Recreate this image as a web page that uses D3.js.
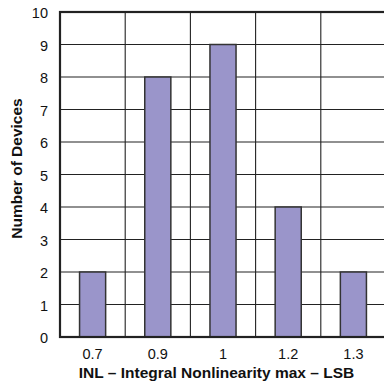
<!DOCTYPE html>
<html>
<head>
<meta charset="utf-8">
<script src="https://cdn.jsdelivr.net/npm/d3@7"></script>
<style>
  body { margin: 0; background: #fff; }
  svg { display: block; font-family: "Liberation Sans", Arial, sans-serif; }
</style>
</head>
<body>
<svg id="chart"></svg>
<script>
// Data
var inlBins = ["0.7", "0.9", "1", "1.2", "1.3"];
var deviceCounts = [2, 8, 9, 4, 2];
var yTicks = [0, 1, 2, 3, 4, 5, 6, 7, 8, 9, 10];

var W = 384, H = 383;
var margin = {top: 12, right: -2, bottom: 46, left: 60},
    width = W - margin.left - margin.right,
    height = H - margin.top - margin.bottom;

var svg = d3.select("#chart")
    .attr("width", W)
    .attr("height", H)
  .append("g")
    .attr("transform", "translate(" + margin.left + "," + margin.top + ")");

// scales
var x = d3.scaleBand()
    .domain(inlBins)
    .range([0, width])
    .paddingInner(0.6)
    .paddingOuter(0.3);

var y = d3.scaleLinear()
    .domain([0, 10])
    .range([height, 0]);

// band edges for vertical grid lines
var step = width / inlBins.length;

// horizontal grid lines
svg.append("g")
  .selectAll("line")
  .data(yTicks.slice(1, -1))
  .enter()
  .append("line")
    .attr("x1", 0)
    .attr("x2", width)
    .attr("y1", function(d) { return y(d); })
    .attr("y2", function(d) { return y(d); })
    .attr("stroke", "#222")
    .attr("stroke-width", 1.1);

// vertical grid lines
svg.append("g")
  .selectAll("line")
  .data(inlBins.slice(1))
  .enter()
  .append("line")
    .attr("x1", function(d, i) { return (i + 1) * step; })
    .attr("x2", function(d, i) { return (i + 1) * step; })
    .attr("y1", 0)
    .attr("y2", height)
    .attr("stroke", "#222")
    .attr("stroke-width", 1.1);

// bars
svg.append("g")
  .selectAll("rect")
  .data(deviceCounts)
  .enter()
  .append("rect")
    .attr("x", function(d, i) { return (i + 0.5) * step - x.bandwidth() / 2; })
    .attr("y", function(d) { return y(d); })
    .attr("width", x.bandwidth())
    .attr("height", function(d) { return height - y(d); })
    .attr("fill", "#9a95ca")
    .attr("stroke", "#333")
    .attr("stroke-width", 1.5);

// frame
svg.append("rect")
    .attr("x", 0)
    .attr("y", 0)
    .attr("width", width)
    .attr("height", height)
    .attr("fill", "none")
    .attr("stroke", "#222")
    .attr("stroke-width", 2.2);

// y tick labels
svg.append("g")
  .selectAll("text")
  .data(yTicks)
  .enter()
  .append("text")
    .attr("x", -12)
    .attr("y", function(d) { return y(d) + 6; })
    .attr("text-anchor", "end")
    .attr("font-size", 14.5)
    .attr("fill", "#111")
    .text(function(d) { return d; });

// x tick labels
svg.append("g")
  .selectAll("text")
  .data(inlBins)
  .enter()
  .append("text")
    .attr("x", function(d, i) { return (i + 0.5) * step; })
    .attr("y", height + 22)
    .attr("text-anchor", "middle")
    .attr("font-size", 14.5)
    .attr("fill", "#111")
    .text(function(d) { return d; });

// axis titles
svg.append("text")
    .attr("x", 156.5)
    .attr("y", height + 41)
    .attr("text-anchor", "middle")
    .attr("font-size", 15.5)
    .attr("font-weight", "bold")
    .attr("fill", "#111")
    .text("INL \u2013 Integral Nonlinearity max \u2013 LSB");

svg.append("text")
    .attr("transform", "translate(-38," + (height / 2 - 6) + ") rotate(-90)")
    .attr("text-anchor", "middle")
    .attr("font-size", 15.5)
    .attr("font-weight", "bold")
    .attr("fill", "#111")
    .text("Number of Devices");
</script>
</body>
</html>
